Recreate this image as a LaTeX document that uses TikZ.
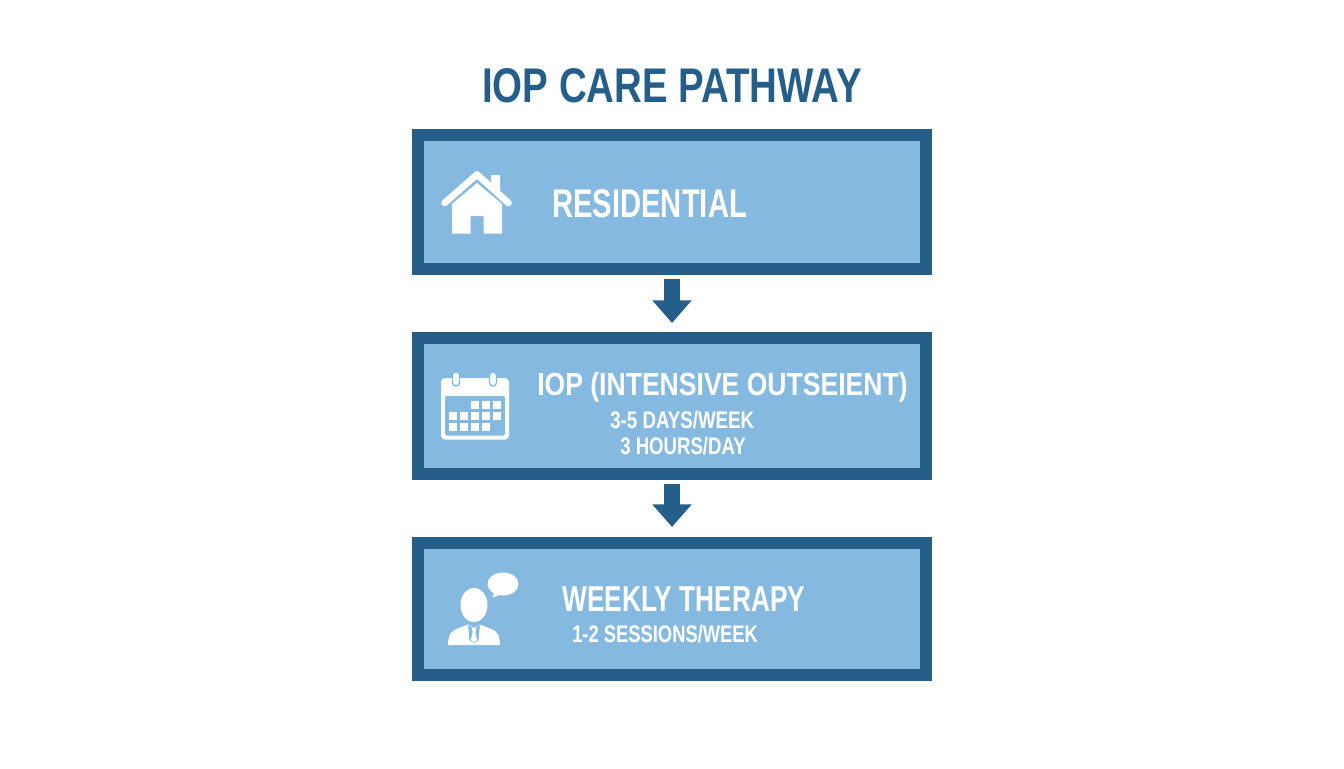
\documentclass[tikz,border=0pt]{standalone}
\usepackage{fontspec}
\setmainfont{Liberation Sans}[BoldFont={Liberation Sans Bold}]
\usetikzlibrary{arrows.meta}
\definecolor{pathblue}{HTML}{265E8A}
\definecolor{panelblue}{HTML}{85B9DF}
\newcommand{\narrowfont}[2]{\fontsize{#1}{#1}\selectfont\bfseries\addfontfeature{FakeStretch=#2}}
\tikzset{
  stagebox/.style={draw=pathblue,fill=panelblue,line width=9pt,minimum width=381pt,inner sep=0pt},
  stagearrow/.style={draw=pathblue,line width=11.5pt,-{Triangle[width=28.5pt,length=17pt]}},
  stagelabel/.style={anchor=base west,inner sep=0pt,text=white},
  icon/.style={fill=white,draw=none}
}
\begin{document}
\begin{tikzpicture}[x=0.75pt,y=0.75pt,yscale=-1,xscale=1]

\useasboundingbox (0,0) rectangle (1344,768);

%Shape: Rectangle
\node [stagebox,minimum height=100.5pt] (residential) at (672,202) {};
%Shape: Rectangle
\node [stagebox,minimum height=102pt] (iop) at (672,406) {};
%Shape: Rectangle
\node [stagebox,minimum height=99pt] (weekly) at (672,609) {};

%Straight Lines
\draw [stagearrow,shorten <=3pt,shorten >=6.75pt] (residential) -- (iop);
%Straight Lines
\draw [stagearrow,shorten <=3pt,shorten >=7.5pt] (iop) -- (weekly);

%Shape: House
\draw [icon] (491,175) -- (500,175) -- (500,192) -- (491,184) -- cycle ;
\draw [white,line width=5pt,line cap=round,line join=round] (444.5,203) -- (477,174.5) -- (508.5,203) ;
\draw [icon] (452,204) -- (477,183) -- (502,204) -- (502,233.5) -- (483.5,233.5) -- (483.5,216) -- (470.5,216) -- (470.5,233.5) -- (452,233.5) -- cycle ;

%Shape: Calendar
\draw [icon,rounded corners=3pt] (441,378) rectangle (509,439.5);
\draw [fill=panelblue,draw=none,rounded corners=1pt] (445,396) rectangle (505,435.5);
\foreach \ringx in {456,493} {
  \draw [fill=white,draw=panelblue,line width=1pt,rounded corners=2.5pt] (\ringx-3.5,372) rectangle (\ringx+3.5,386);
}
\foreach \cellx/\celly in {471/401,482/401,492.7/401,449.3/412,460/412,471/412,482/412,492.7/412,449.3/422.5,460/422.5,471/422.5,482/422.5} {
  \draw [icon] (\cellx,\celly) rectangle ++(8,8);
}

%Shape: Person
\draw [icon] (474,605) ellipse (13.5 and 17);
\draw [icon] (448,645) .. controls (448.5,634) and (451,631) .. (458,628.5) -- (468,624.5) -- (474,628) -- (480,624.5) -- (490,628.5) .. controls (497,631) and (499.5,634) .. (500,645) -- cycle ;
\draw [fill=panelblue,draw=none] (468,625) -- (474,628.5) -- (480,625) -- (478.5,640) -- (474,643) -- (469.5,640) -- cycle ;
\draw [icon] (471.5,627.5) -- (476.5,627.5) -- (475.3,632) -- (477,640) -- (474,642.5) -- (471,640) -- (472.7,632) -- cycle ;
%Shape: Speech Bubble
\draw [icon] (503,584) ellipse (15.5 and 11.5);
\draw [icon] (495,590) -- (492.5,597.5) -- (502,594) -- cycle ;

% Text Node
\node [anchor=base,inner sep=0pt,text=pathblue,font=\narrowfont{36.5pt}{0.79}] (title) at (672,102) {IOP CARE PATHWAY};
% Text Node
\node [stagelabel,font=\narrowfont{30pt}{0.73}] (residentiallabel) at (552,217) {RESIDENTIAL};
% Text Node
\node [stagelabel,font=\narrowfont{24pt}{0.83}] (ioplabel) at (537,395) {IOP (INTENSIVE OUTSEIENT)};
% Text Node
\node [stagelabel,font=\narrowfont{18pt}{0.78}] (dayslabel) at (610,428) {3-5 DAYS/WEEK};
% Text Node
\node [stagelabel,font=\narrowfont{18pt}{0.775}] (hourslabel) at (620,454) {3 HOURS/DAY};
% Text Node
\node [stagelabel,font=\narrowfont{27pt}{0.73}] (weeklylabel) at (562,611) {WEEKLY THERAPY};
% Text Node
\node [stagelabel,font=\narrowfont{18pt}{0.765}] (sessionslabel) at (572,642) {1-2 SESSIONS/WEEK};

\end{tikzpicture}
\end{document}
